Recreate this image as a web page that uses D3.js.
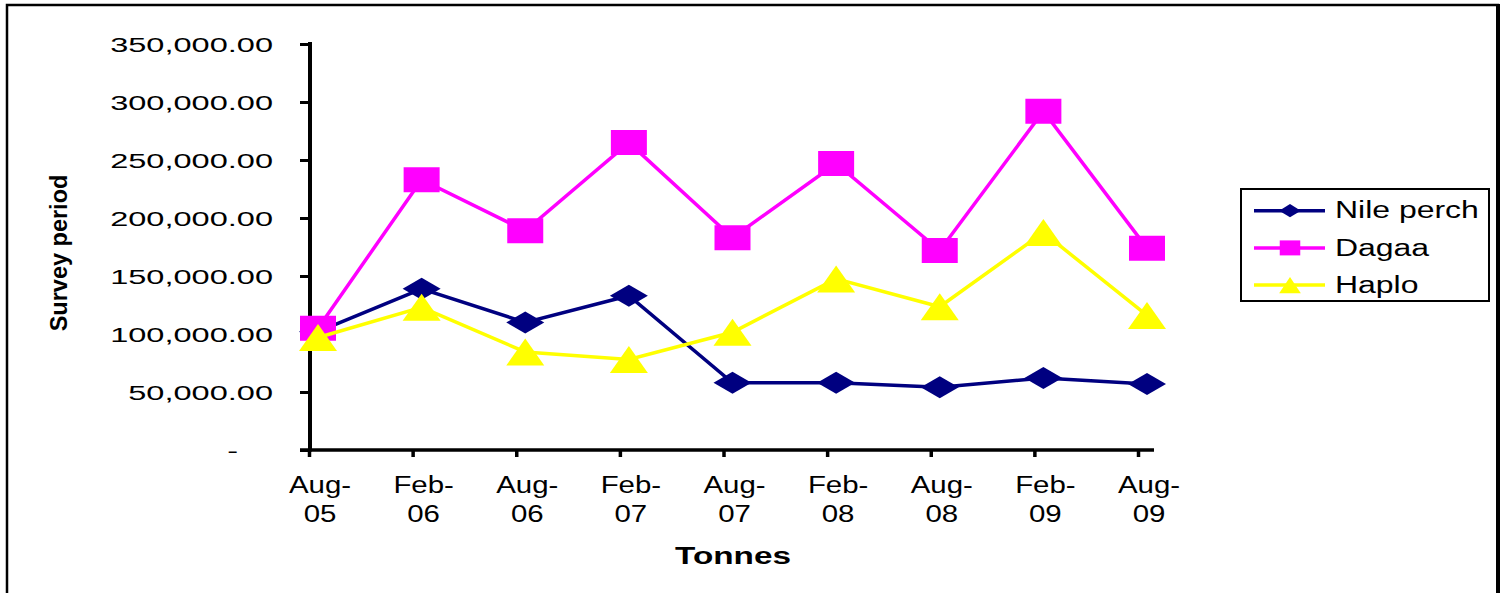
<!DOCTYPE html>
<html>
<head>
<meta charset="utf-8">
<script src="https://cdn.jsdelivr.net/npm/d3@7"></script>
<style>
  body { margin: 0; background: #fff; }
  text { font-family: "Liberation Sans", Arial, sans-serif; fill: #000; }
</style>
</head>
<body>
<div id="chart"></div>
<script>
var categories = ["Aug-05", "Feb-06", "Aug-06", "Feb-07", "Aug-07", "Feb-08", "Aug-08", "Feb-09", "Aug-09"];
var nilePerch = [102000, 139000, 110000, 133000, 58000, 58000, 54000, 62000, 57000];
var dagaa     = [105000, 233000, 189000, 265000, 183000, 247000, 172000, 292000, 174000];
var haplo     = [97000, 123000, 84500, 78000, 101500, 147500, 123500, 187500, 116000];
var yTicks = [0, 50000, 100000, 150000, 200000, 250000, 300000, 350000];

var series = [
  { name: "Nile perch", values: nilePerch, color: "#000080", marker: "diamond", w: 38, h: 22 },
  { name: "Dagaa",      values: dagaa,     color: "#FF00FF", marker: "square",  w: 36, h: 25 },
  { name: "Haplo",      values: haplo,     color: "#FFFF00", marker: "triangle", w: 38, h: 27 }
];

var cfg = { width: 1503, height: 593, axisX: 310, axisY: 450 };

var svg = d3.select("#chart").append("svg")
    .attr("width", cfg.width)
    .attr("height", cfg.height);

// outer frame
svg.append("rect")
    .attr("x", 7).attr("y", 5)
    .attr("width", 1491).attr("height", 620)
    .attr("fill", "none").attr("stroke", "#000").attr("stroke-width", 2.5);
svg.append("line")
    .attr("x1", 1498).attr("x2", 1498).attr("y1", 4).attr("y2", cfg.height)
    .attr("stroke", "#000").attr("stroke-width", 4);

var x = d3.scalePoint().domain(categories).range([318, 1147]);
var y = d3.scaleLinear().domain([0, 350000]).range([cfg.axisY, 44]);

function markerPath(type, w, h) {
  var a = w / 2, b = h / 2;
  if (type == "diamond") return "M0," + (-b) + "L" + a + ",0L0," + b + "L" + (-a) + ",0Z";
  if (type == "square") return "M" + (-a) + "," + (-b) + "H" + a + "V" + b + "H" + (-a) + "Z";
  return "M0," + (-b) + "L" + a + "," + b + "L" + (-a) + "," + b + "Z";
}

function fmt(d) {
  return d === 0 ? "-" : d3.format(",.2f")(d);
}

// y axis
var yAxis = svg.append("g")
    .attr("transform", "translate(" + cfg.axisX + ",0)")
    .call(d3.axisLeft(y).tickValues(yTicks).tickSize(10).tickFormat(fmt));
yAxis.select(".domain").remove();
yAxis.selectAll(".tick line").attr("stroke", "#000").attr("stroke-width", 3);
var ySx = 1.55;
yAxis.selectAll(".tick text")
    .attr("font-size", 21)
    .attr("x", function(d) { return (d === 0 ? -72 : -37) / ySx; })
    .attr("dy", "0.36em")
    .attr("transform", "scale(" + ySx + ",1)");
svg.append("line")
    .attr("x1", cfg.axisX).attr("x2", cfg.axisX)
    .attr("y1", 42).attr("y2", cfg.axisY + 1.5)
    .attr("stroke", "#000").attr("stroke-width", 4);

// x axis
var xAxis = svg.append("g")
    .attr("transform", "translate(0," + cfg.axisY + ")")
    .call(d3.axisBottom(x).tickSize(7).tickFormat(""));
xAxis.select(".domain").remove();
xAxis.selectAll(".tick line")
    .attr("x1", -9).attr("x2", -9)
    .attr("stroke", "#000").attr("stroke-width", 3.5);
svg.append("line")
    .attr("x1", 300).attr("x2", 1154)
    .attr("y1", cfg.axisY).attr("y2", cfg.axisY)
    .attr("stroke", "#000").attr("stroke-width", 3.5);

var xSx = 1.28;
var xLabels = svg.selectAll(".xlabel")
    .data(categories).enter()
    .append("text")
    .attr("class", "xlabel")
    .attr("font-size", 23)
    .attr("text-anchor", "middle")
    .attr("transform", function(d) { return "translate(" + (x(d) + 2) + ",0) scale(" + xSx + ",1)"; });
xLabels.append("tspan").attr("x", 0).attr("y", 493)
    .text(function(d) { return d.split("-")[0] + "-"; });
xLabels.append("tspan").attr("x", 0).attr("y", 522)
    .text(function(d) { return d.split("-")[1]; });

// axis titles
svg.append("text")
    .attr("font-size", 24.5)
    .attr("font-weight", "bold")
    .attr("text-anchor", "middle")
    .attr("transform", "translate(733,564) scale(1.36,1)")
    .text("Tonnes");

svg.append("text")
    .attr("font-size", 23.5)
    .attr("font-weight", "bold")
    .attr("text-anchor", "middle")
    .attr("transform", "translate(67,253) rotate(-90)")
    .text("Survey period");

// series
var line = d3.line()
    .x(function(d, i) { return x(categories[i]); })
    .y(function(d) { return y(d); });

series.forEach(function(s) {
  var g = svg.append("g").attr("class", "series");
  g.append("path")
      .datum(s.values)
      .attr("d", line)
      .attr("fill", "none")
      .attr("stroke", s.color)
      .attr("stroke-width", 3.5);
  g.selectAll(".marker")
      .data(s.values).enter()
      .append("path")
      .attr("class", "marker")
      .attr("transform", function(d, i) { return "translate(" + x(categories[i]) + "," + y(d) + ")"; })
      .attr("d", markerPath(s.marker, s.w, s.h))
      .attr("fill", s.color);
});

// legend
var legend = svg.append("g");
legend.append("rect")
    .attr("x", 1241).attr("y", 189)
    .attr("width", 248).attr("height", 112)
    .attr("fill", "#fff").attr("stroke", "#000").attr("stroke-width", 2);

var entries = legend.selectAll(".entry")
    .data(series).enter()
    .append("g")
    .attr("class", "entry")
    .attr("transform", function(d, i) { return "translate(0," + (210.7 + i * 37.2) + ")"; });
entries.append("line")
    .attr("x1", 1254).attr("x2", 1325)
    .attr("stroke", function(d) { return d.color; })
    .attr("stroke-width", 3.5);
entries.append("path")
    .attr("transform", "translate(1290,0)")
    .attr("d", function(d) { return markerPath(d.marker, d.w * 0.57, d.h * 0.6); })
    .attr("fill", function(d) { return d.color; });
entries.append("text")
    .attr("font-size", 23)
    .attr("transform", "translate(1335,7.6) scale(1.39,1)")
    .text(function(d) { return d.name; });
</script>
</body>
</html>
